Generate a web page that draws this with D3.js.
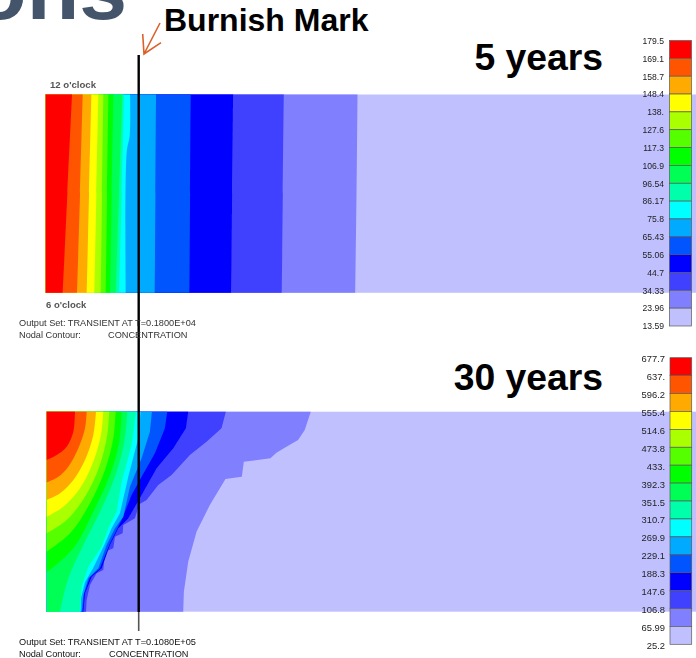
<!DOCTYPE html>
<html>
<head>
<meta charset="utf-8">
<script src="https://cdn.jsdelivr.net/npm/d3@7"></script>
<style>
  html, body { margin: 0; padding: 0; background: #fff; }
  svg { display: block; }
  text { font-family: "Liberation Sans", Arial, sans-serif; }
</style>
</head>
<body>
<div id="chart"></div>
<script>
// Contour colours, highest band first
var bandColors = ["#ff0000", "#ff5500", "#ffaa00", "#ffff00", "#aaff00", "#55ff00", "#00ff00", "#00ff55",
  "#00ffaa", "#00ffff", "#00aaff", "#0055ff", "#0000ff", "#4040ff", "#8080ff", "#c0c0ff"];

var labels5yr = ["179.5", "169.1", "158.7", "148.4", "138.", "127.6", "117.3", "106.9", "96.54", "86.17",
  "75.8", "65.43", "55.06", "44.7", "34.33", "23.96", "13.59"];
var labels30yr = ["677.7", "637.", "596.2", "555.4", "514.6", "473.8", "433.", "392.3", "351.5", "310.7",
  "269.9", "229.1", "188.3", "147.6", "106.8", "65.99", "25.2"];

// Band edges as [depth, position], position 0 = 12 o'clock, 600 = 6 o'clock
var contours5yr = [
  [[79, 0], [65, 300], [51, 600]],
  [[111, 0], [103, 300], [94, 600]],
  [[137, 0], [130, 300], [123, 600]],
  [[158, 0], [152, 300], [146, 600]],
  [[173, 0], [169, 300], [165, 600]],
  [[188, 0], [184, 300], [180, 600]],
  [[203, 0], [198, 300], [193, 600]],
  [[230, 0], [220, 300], [210, 600]],
  [[235, 0], [228, 300], [220, 600]],
  [[253, 0], [252, 124], [243, 174], [240, 600]],
  [[331, 0], [329, 300], [327, 600]],
  [[435, 0], [433, 300], [431, 600]],
  [[562, 0], [559, 300], [556, 600]],
  [[714, 0], [711, 300], [708, 600]],
  [[935, 0], [932, 300], [928, 600]]
];

var contours30yr = [
  [[85, 0], [80, 60], [60, 105], [30, 130], [0, 145]],
  [[120, 0], [115, 50], [95, 110], [65, 165], [35, 195], [0, 212]],
  [[148, 0], [140, 70], [115, 145], [80, 205], [40, 245], [0, 265]],
  [[170, 0], [163, 70], [140, 150], [100, 230], [50, 285], [0, 315]],
  [[188, 0], [182, 70], [158, 165], [115, 255], [60, 325], [0, 365]],
  [[207, 0], [200, 80], [175, 175], [130, 275], [70, 365], [0, 420]],
  [[225, 0], [218, 90], [190, 190], [145, 290], [80, 410], [0, 482]],
  [[242, 0], [235, 80], [210, 180], [165, 290], [115, 390], [65, 500], [40, 600]],
  [[268, 0], [255, 100], [225, 210], [210, 300], [185, 350], [165, 405], [125, 465], [105, 525], [100, 600]],
  [[282, 0], [275, 80], [245, 195], [220, 305], [195, 350], [172, 402], [140, 468], [115, 512], [103, 560], [102, 600]],
  [[316, 0], [310, 60], [285, 140], [250, 225], [230, 315], [205, 350], [180, 400], [155, 470], [125, 500], [110, 550], [105, 600]],
  [[362, 0], [355, 50], [325, 125], [285, 195], [255, 250], [225, 325], [190, 395], [160, 470], [130, 497], [112, 547], [108, 600]],
  [[425, 0], [418, 50], [380, 110], [330, 170], [285, 250], [245, 320], [215, 350], [190, 400], [165, 470], [135, 495], [115, 545], [110, 600]],
  [[538, 0], [525, 50], [480, 90], [430, 130], [375, 190], [335, 220], [300, 265], [278, 278], [265, 320], [230, 340], [228, 365], [205, 375], [200, 410], [175, 420], [170, 475], [150, 485], [130, 520], [120, 565], [118, 600]],
  [[793, 0], [775, 55], [755, 85], [720, 105], [690, 123], [672, 140], [592, 150], [586, 195], [537, 202], [490, 280], [450, 360], [425, 450], [412, 540], [410, 600]]
];

var depthMax = 1950;
var positionMax = 600;

var svg = d3.select("#chart")
  .append("svg")
  .attr("width", 696)
  .attr("height", 658);

// The source is an enlarged screenshot, so everything is slightly soft
svg.append("filter").attr("id", "soft").append("feGaussianBlur").attr("stdDeviation", 0.45);
svg.append("filter").attr("id", "softer").append("feGaussianBlur").attr("stdDeviation", 0.6);

// Cropped slide title
svg.append("text")
  .attr("x", 127)
  .attr("y", 19)
  .attr("text-anchor", "end")
  .attr("font-size", 86)
  .attr("font-weight", "bold")
  .attr("fill", "#44546a")
  .text("ons");

function drawPanel(contours, labels, box, legend, linearFrom) {
  var x = d3.scaleLinear().domain([0, depthMax]).range([box.left, box.right]);
  var y = d3.scaleLinear().domain([0, positionMax]).range([box.top, box.bottom]);

  var panel = svg.append("g").attr("filter", "url(#soft)");

  panel.append("rect")
    .attr("x", x(0))
    .attr("y", y(0))
    .attr("width", x(depthMax) - x(0))
    .attr("height", y(positionMax) - y(0))
    .attr("fill", bandColors[bandColors.length - 1]);

  var smooth = d3.line().x(d => x(d[0])).y(d => y(d[1])).curve(d3.curveCatmullRom);
  var straight = d3.line().x(d => x(d[0])).y(d => y(d[1]));

  // Paint from the outermost contour in, each one closed round the top left corner
  d3.range(contours.length - 1, -1, -1).forEach(function(i) {
    var pts = contours[i];
    var last = pts[pts.length - 1];
    var d = (i >= linearFrom ? straight : smooth)(pts);
    if (last[1] === positionMax) d += "L" + x(0) + "," + y(positionMax);
    d += "L" + x(0) + "," + y(0) + "Z";
    panel.append("path").attr("d", d).attr("fill", bandColors[i]);
  });

  // Legend swatches and labels
  var bandScale = d3.scaleBand().domain(bandColors).range([legend.top, legend.bottom]);
  var labelScale = d3.scalePoint().domain(labels).range([legend.labelTop, legend.labelBottom]);

  var key = svg.append("g").attr("filter", "url(#soft)");

  key.selectAll("rect")
    .data(bandColors)
    .enter()
    .append("rect")
    .attr("x", legend.left)
    .attr("y", d => bandScale(d))
    .attr("width", legend.right - legend.left)
    .attr("height", bandScale.bandwidth())
    .attr("fill", d => d)
    .attr("stroke", "#5a5a5a")
    .attr("stroke-width", 0.7);

  var axis = key.append("g")
    .attr("transform", `translate(${legend.labelX}, 0)`)
    .call(d3.axisLeft(labelScale).tickSize(0).tickPadding(0));
  axis.select(".domain").remove();
  axis.selectAll("text")
    .attr("font-size", legend.fontSize)
    .attr("font-family", "Liberation Sans")
    .attr("fill", "#222");
}

drawPanel(contours5yr, labels5yr,
  { left: 45.7, right: 696, top: 94.5, bottom: 292.8 },
  { left: 669.5, right: 691.5, top: 40.5, bottom: 326, labelX: 664, labelTop: 40.7, labelBottom: 326, fontSize: 8.6 },
  15);

drawPanel(contours30yr, labels30yr,
  { left: 46.7, right: 696, top: 411.7, bottom: 611.7 },
  { left: 670, right: 691.7, top: 357.7, bottom: 644.3, labelX: 665, labelTop: 358.3, labelBottom: 645.7, fontSize: 9.4 },
  8);

// Burnish mark line, runs through both panels
svg.append("line")
  .attr("x1", 138.7).attr("x2", 138.7)
  .attr("y1", 55).attr("y2", 612)
  .attr("stroke", "#000")
  .attr("stroke-width", 2.4);
svg.append("line")
  .attr("x1", 138.7).attr("x2", 138.7)
  .attr("y1", 612).attr("y2", 631)
  .attr("stroke", "#555")
  .attr("stroke-width", 1.6);

// Arrow to the line
svg.append("path")
  .attr("d", "M160,23L144,54M142.7,34L144,54L161,42.7")
  .attr("fill", "none")
  .attr("stroke", "#d9622b")
  .attr("stroke-width", 1.6);

var headings = [
  { text: "Burnish Mark", x: 164, y: 31, size: 32, anchor: "start" },
  { text: "5 years", x: 603, y: 70, size: 37.3, anchor: "end" },
  { text: "30 years", x: 603, y: 390, size: 37.3, anchor: "end" }
];
svg.selectAll(".heading")
  .data(headings)
  .enter()
  .append("text")
  .attr("class", "heading")
  .attr("x", d => d.x)
  .attr("y", d => d.y)
  .attr("font-size", d => d.size)
  .attr("font-weight", "bold")
  .attr("text-anchor", d => d.anchor)
  .attr("fill", "#000")
  .text(d => d.text);

var notes = [
  { text: "12 o'clock", x: 50, y: 87.5, size: 9.6, weight: "bold", fill: "#555", blur: "url(#soft)" },
  { text: "6 o'clock", x: 46, y: 307.5, size: 9.5, weight: "bold", fill: "#555", blur: "url(#soft)" },
  { text: "Output Set: TRANSIENT AT T=0.1800E+04", x: 19, y: 326, size: 9.2, weight: "normal", fill: "#333", blur: "url(#softer)" },
  { text: "Nodal Contour:", x: 19, y: 338, size: 9.2, weight: "normal", fill: "#333", blur: "url(#softer)" },
  { text: "CONCENTRATION", x: 108, y: 338, size: 9.2, weight: "normal", fill: "#333", blur: "url(#softer)" },
  { text: "Output Set: TRANSIENT AT T=0.1080E+05", x: 19, y: 644.5, size: 9.2, weight: "normal", fill: "#111", blur: "url(#soft)" },
  { text: "Nodal Contour:", x: 19, y: 656.5, size: 9.2, weight: "normal", fill: "#111", blur: "url(#soft)" },
  { text: "CONCENTRATION", x: 109, y: 656.5, size: 9.2, weight: "normal", fill: "#111", blur: "url(#soft)" }
];
svg.selectAll(".note")
  .data(notes)
  .enter()
  .append("text")
  .attr("class", "note")
  .attr("x", d => d.x)
  .attr("y", d => d.y)
  .attr("font-size", d => d.size)
  .attr("font-weight", d => d.weight)
  .attr("fill", d => d.fill)
  .attr("filter", d => d.blur)
  .text(d => d.text);
</script>
</body>
</html>
